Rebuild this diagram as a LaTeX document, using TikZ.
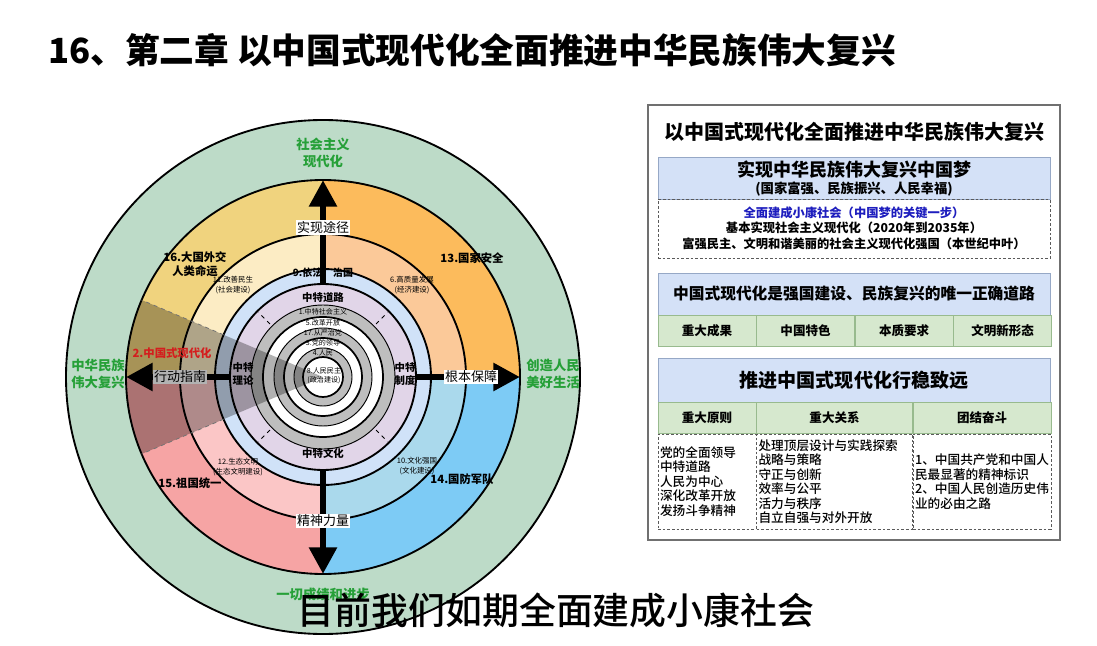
\documentclass[tikz,border=0pt]{standalone}
\usepackage{fontspec}
\setmainfont{Noto Sans CJK SC}
\newfontfamily\medfont{Noto Sans CJK SC Medium}
\usetikzlibrary{arrows.meta,positioning}
\definecolor{sage}{RGB}{189,219,200}
\definecolor{yellowA}{RGB}{240,211,126}
\definecolor{yellowB}{RGB}{252,236,196}
\definecolor{orangeA}{RGB}{252,187,92}
\definecolor{orangeB}{RGB}{251,201,153}
\definecolor{blueA}{RGB}{125,203,245}
\definecolor{blueB}{RGB}{170,217,236}
\definecolor{pinkA}{RGB}{246,164,164}
\definecolor{pinkB}{RGB}{251,198,198}
\definecolor{lawblue}{RGB}{208,226,248}
\definecolor{lilac}{RGB}{225,213,232}
\definecolor{coregray}{RGB}{190,190,190}
\definecolor{goalgreen}{RGB}{38,160,56}
\definecolor{keyred}{RGB}{212,30,30}
\definecolor{stepblue}{RGB}{30,30,190}
\definecolor{boxblue}{RGB}{212,225,247}
\definecolor{boxline}{RGB}{150,168,198}
\definecolor{cellgreen}{RGB}{214,232,206}
\definecolor{cellline}{RGB}{152,186,142}
\definecolor{framegray}{RGB}{112,112,112}
\definecolor{dashgray}{RGB}{90,90,90}
\newcommand\fsz[2]{\fontsize{#1}{#2}\selectfont}

\begin{document}
\begin{tikzpicture}[x=.75pt,y=-.75pt,
  ringline/.style={line width=1.4pt},
  bigarrow/.style={line width=5.2pt,-{Triangle[length=20pt,width=20pt]}},
  arrowtag/.style={fill=white,inner sep=1pt,font=\fsz{9.75pt}{11pt}},
  qbig/.style={font=\bfseries\fsz{8.5pt}{10.5pt},align=center,inner sep=0pt},
  qsmall/.style={font=\fsz{5.6pt}{7pt},align=center,inner sep=0pt},
  core/.style={font=\fsz{5.3pt}{6.5pt},align=center,inner sep=0pt},
  spine/.style={font=\bfseries\fsz{7.8pt}{10pt},align=center,inner sep=0pt},
  goal/.style={text=goalgreen,font=\bfseries\fsz{10pt}{12.75pt},align=center,inner sep=0pt},
  headbox/.style={draw=boxline,fill=boxblue,minimum width=294pt,inner sep=0pt},
  tagcell/.style={draw=cellline,fill=cellgreen,minimum height=23.25pt,inner sep=0pt,font=\bfseries\fsz{9.4pt}{11pt}},
  notecell/.style={draw=dashgray,dash pattern=on 2pt off 1.5pt,minimum height=71.25pt,align=left,inner xsep=1.5pt,font=\medfont\fsz{9.5pt}{10.9pt}},
  panelline/.style={inner sep=0pt,font=\bfseries\fsz{9.2pt}{11pt}}]
\fill[white] (0,0) rectangle (1097,646);
\useasboundingbox (0,0) rectangle (1097,646);

\node[anchor=west,inner sep=0pt,font=\bfseries\fsz{26pt}{30pt}] (title) at (48,50) {16、第二章 以中国式现代化全面推进中华民族伟大复兴};

% rings
\begin{scope}[shift={(323,377)},y=.75pt]
  \coordinate (hub) at (0,0);
  \fill[sage] (hub) circle (257);
  \draw[ringline] (hub) circle (257);
  \foreach \a/\outer/\inner in {0/orangeA/orangeB,90/yellowA/yellowB,180/pinkA/pinkB,270/blueA/blueB}{
    \fill[\outer] (hub) -- (\a:197) arc[start angle=\a,delta angle=90,radius=197] -- cycle;
    \fill[\inner] (hub) -- (\a:143) arc[start angle=\a,delta angle=90,radius=143] -- cycle;
  }
  \fill[lawblue] (hub) circle (108);
  \fill[lilac] (hub) circle (93);
  \foreach \r/\c in {72/coregray,60/white,49/coregray,39/white,29/coregray,20/white}
    \fill[\c] (hub) circle (\r);
  \foreach \r in {197,143,108,93}
    \draw[ringline] (hub) circle (\r);
  \foreach \r in {72,49,29}
    \draw[line width=.7pt] (hub) circle (\r);
  \foreach \r in {60,39,20}
    \draw[line width=1.3pt] (hub) circle (\r);
  \foreach \a in {45,135,225,315}
    \draw[dashed,line width=.6pt] (\a:75) -- (\a:91);
  \foreach \d/\a in {N/90,E/0,S/270,W/180}{
    \coordinate (\d0) at (\a:93);
    \coordinate (\d1) at (\a:197);
  }
\end{scope}

% outer goals
\node[goal] (socialism) at (323,153) {社会主义\\现代化};
\node[goal] (revival) at (98,374) {中华民族\\伟大复兴};
\node[goal] (goodlife) at (553,374) {创造人民\\美好生活};
\node[goal] (progress) at (323,594) {一切成绩和进步};

% ring labels
\node[qbig] (diplomacy) at (195,264) {16.大国外交\\人类命运};
\node[qsmall] (livelihood) at (233,285) {11.改善民生\\(社会建设)};
\node[qbig] (security) at (472,258) {13.国家安全};
\node[qsmall] (economy) at (412,285) {6.高质量发展\\(经济建设)};
\node[qsmall] (culture) at (417,466) {10.文化强国\\(文化建设)};
\node[qbig] (army) at (462,479) {14.国防军队};
\node[qsmall] (ecology) at (238,467) {12.生态文明\\(生态文明建设)};
\node[qbig] (unity) at (190,483) {15.祖国统一};
\node[inner sep=0pt,font=\bfseries\fsz{7.5pt}{9pt}] (lawrule) at (323,273) {9.依法\hspace{8pt}治国};
\node[spine] (road) at (323,298) {中特道路};
\node[spine] (system) at (405,374) {中特\\制度};
\node[spine] (theory) at (243,374) {中特\\理论};
\node[spine] (cult) at (323,453) {中特文化};
\node[core] (c1) at (323,312) {1.中特社会主义};
\node[core] (c5) at (323,323) {5.改革开放};
\node[core] (c17) at (323,333) {17.从严治党};
\node[core] (c3) at (323,343) {3.党的领导};
\node[core] (c4) at (323,353) {4.人民};
\node[core] (c8) at (324,376) {8.人民民主\\(政治建设)};

% arrows
\foreach \d/\txt/\p in {N/实现途径/.54,E/根本保障/.53,S/精神力量/.49,W/行动指南/.48}
  \draw[bigarrow] (\d0) -- node[arrowtag,pos=\p] (tag\d) {\txt} (\d1);

% shaded wedge
\begin{scope}[shift={(323,377)},y=.75pt]
  \fill[black,opacity=.3] (hub) -- (157:197) arc[start angle=157,end angle=203,radius=197] -- cycle;
  \foreach \a in {157,203}
    \draw[dashed,black!55,line width=.6pt] (\a:108) -- (\a:197);
\end{scope}
\node[qbig,text=keyred,font=\bfseries\fsz{8.5pt}{10pt}] (cnmod) at (172,353) {2.中国式现代化};

% panel
\node[draw=framegray,line width=1pt,minimum width=309pt,minimum height=326.25pt] (panel) at (854,322.5) {};
\node[inner sep=0pt,font=\bfseries\fsz{15pt}{17pt}] (ptitle) at (854,132) {以中国式现代化全面推进中华民族伟大复兴};
\node[headbox,minimum height=31.5pt] (dream) at (854,178) {};
\node[draw=dashgray,dash pattern=on 2pt off 1.5pt,minimum width=294pt,minimum height=44.25pt,below=0pt of dream] (steps) {};
\node[inner sep=0pt,font=\bfseries\fsz{13.5pt}{15pt}] (dreamA) at (854,170) {实现中华民族伟大复兴中国梦};
\node[inner sep=0pt,font=\bfseries\fsz{10pt}{12pt}] (dreamB) at (854,189) {(国家富强、民族振兴、人民幸福)};
\node[panelline,text=stepblue] (stepA) at (854,213) {全面建成小康社会（中国梦的关键一步）};
\node[panelline] (stepB) at (854,228) {基本实现社会主义现代化（2020年到2035年）};
\node[panelline] (stepC) at (854,244) {富强民主、文明和谐美丽的社会主义现代化强国（本世纪中叶）};

\node[headbox,minimum height=31.5pt,font=\bfseries\fsz{11.8pt}{14pt}] (path) at (854,294) {中国式现代化是强国建设、民族复兴的唯一正确道路};
\node[tagcell,minimum width=73.5pt,anchor=north west] (featA) at (path.south west) {重大成果};
\node[tagcell,minimum width=73.5pt,right=0pt of featA] (featB) {中国特色};
\node[tagcell,minimum width=73.5pt,right=0pt of featB] (featC) {本质要求};
\node[tagcell,minimum width=73.5pt,right=0pt of featC] (featD) {文明新形态};

\node[headbox,minimum height=33pt,font=\bfseries\fsz{14.3pt}{16pt}] (steady) at (854,380) {推进中国式现代化行稳致远};
\node[tagcell,minimum width=73.5pt,anchor=north west] (ruleA) at (steady.south west) {重大原则};
\node[tagcell,minimum width=117pt,right=0pt of ruleA] (ruleB) {重大关系};
\node[tagcell,minimum width=103.5pt,right=0pt of ruleB] (ruleC) {团结奋斗};
\node[notecell,text width=70.5pt,below=0pt of ruleA] (noteA) {党的全面领导\\中特道路\\人民为中心\\深化改革开放\\发扬斗争精神};
\node[notecell,text width=114pt,below=0pt of ruleB] (noteB) {处理顶层设计与实践探索\\战略与策略\\守正与创新\\效率与公平\\活力与秩序\\自立自强与对外开放};
\node[notecell,text width=100.5pt,below=0pt of ruleC] (noteC) {1、中国共产党和中国人\\民最显著的精神标识\\2、中国人民创造历史伟\\业的必由之路};

% subtitle
\node[inner sep=0pt,font=\medfont\fsz{27.7pt}{30pt}] (caption) at (556,610) {目前我们如期全面建成小康社会};
\end{tikzpicture}
\end{document}
